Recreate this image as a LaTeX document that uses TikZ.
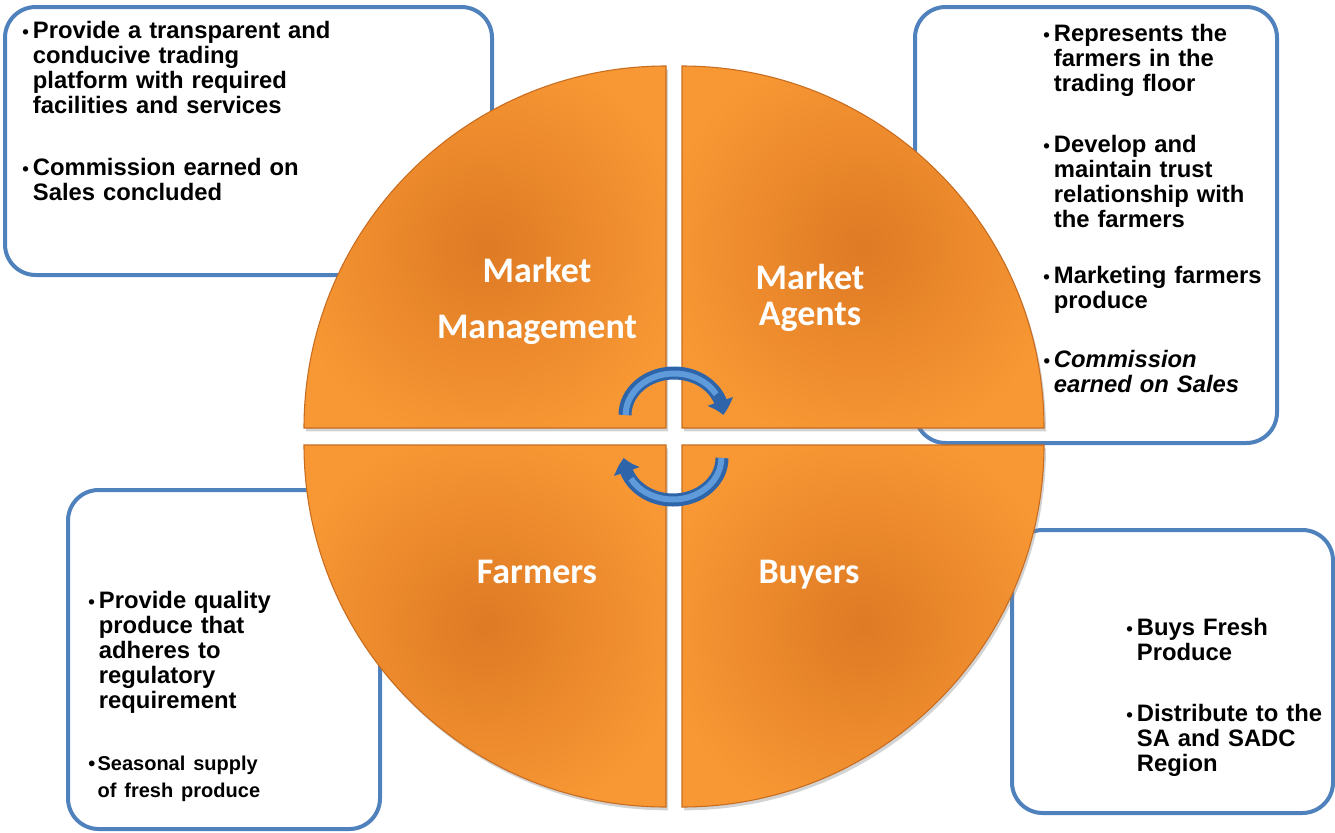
\documentclass[tikz,border=0pt]{standalone}
\usepackage{fontspec}
\setmainfont{Liberation Sans}
\newfontfamily\calib{Carlito}
\usetikzlibrary{arrows.meta,shadows,bending}
\definecolor{boxblue}{RGB}{79,129,189}
\definecolor{qlight}{RGB}{248,152,52}
\definecolor{qdark}{RGB}{222,122,36}
\definecolor{qedge}{RGB}{200,108,32}
\definecolor{arrdark}{RGB}{45,100,170}
\definecolor{arrlight}{RGB}{95,155,218}
\pgfdeclareradialshading{quadshade}{\pgfpoint{0bp}{0bp}}{color(0bp)=(qdark); color(28bp)=(qlight); color(50bp)=(qlight)}
\newcommand\bul{\makebox[8pt][l]{\fontsize{14}{14}\selectfont\textbullet}}
\newcommand\ind{\hspace*{8pt}}
\tikzset{
  infobox/.style={draw=boxblue, line width=3pt, fill=white, rounded corners=23pt},
  quad/.style={shading=quadshade, draw=qedge, line width=0.8pt,
    drop shadow={opacity=0.35, shadow xshift=1.5pt, shadow yshift=-2.5pt}},
  qlabel/.style={text=white, inner sep=0pt, align=center, anchor=base},
  btext/.style={anchor=base west, inner sep=0pt, align=left, font=\bfseries\fontsize{17.85}{18.75}\selectfont},
  cycdark/.style={line width=9.75pt, draw=arrdark},
  cyclight/.style={line width=4.5pt, draw=arrlight},
}
\begin{document}
\begin{tikzpicture}[x=0.75pt,y=-0.75pt]
\useasboundingbox (0,0) rectangle (1335,832);
% info boxes
\draw[infobox] (5,7) rectangle (492,275);
\draw[infobox] (915,7) rectangle (1277,443);
\draw[infobox] (68,490) rectangle (380,829);
\draw[infobox] (1012,530) rectangle (1333,813);
% quadrants
\draw[quad] (666,428) -- (304,428) arc[start angle=180,end angle=270,radius=362] -- cycle;
\draw[quad] (682,428) -- (682,66) arc[start angle=270,end angle=360,radius=362] -- cycle;
\draw[quad] (666,445) -- (666,807) arc[start angle=90,end angle=180,radius=362] -- cycle;
\draw[quad] (682,445) -- (1044,445) arc[start angle=0,end angle=90,radius=362] -- cycle;
% labels (anchor base = baseline of the last line)
\node[qlabel, font=\calib\bfseries\fontsize{27}{42}\selectfont] (mm) at (537,338) {Market\\Management};
\node[qlabel, font=\calib\bfseries\fontsize{27}{27}\selectfont] (ma) at (810,325) {Market\\Agents};
\node[qlabel, font=\calib\bfseries\fontsize{27}{27}\selectfont] (fa) at (537,583) {Farmers};
\node[qlabel, font=\calib\bfseries\fontsize{27}{27}\selectfont] (bu) at (809,583) {Buyers};
% cycle arrows
\coordinate (a1s) at (625,415);
\coordinate (a2s) at (722,458);
\draw[cycdark, -{Triangle[width=19.5pt,length=10.5pt,bend]}] (a1s) arc[start angle=180,end angle=360,x radius=49,y radius=42];
\draw[cyclight] ([xshift=0.5]a1s) arc[start angle=180,end angle=330,x radius=48.5,y radius=41.5];
\draw[cycdark, -{Triangle[width=19.5pt,length=10.5pt,bend]}] (a2s) arc[start angle=0,end angle=180,x radius=49,y radius=42];
\draw[cyclight] ([xshift=-0.5]a2s) arc[start angle=0,end angle=150,x radius=48.5,y radius=41.5];
% box texts
\node[btext, text width=330pt] (t1) at (22,38) {\bul Provide a transparent and\\\ind conducive trading\\\ind platform with required\\\ind facilities and services\par
\vspace{27.75pt}\bul Commission earned on\\\ind Sales concluded\par};
\node[btext, text width=280pt] (t2) at (1043,41) {\bul Represents the\\\ind farmers in the\\\ind trading floor\par
\vspace{27pt}\bul Develop and\\\ind maintain trust\\\ind relationship with\\\ind the farmers\par
\vspace{23.25pt}\bul Marketing farmers\\\ind produce\par
\vspace{25.5pt}{\itshape\bul Commission\\\ind earned on Sales\par}};
\node[btext, text width=230pt] (t3) at (88,608) {\bul Provide quality\\\ind produce that\\\ind adheres to\\\ind regulatory\\\ind requirement\par
\vspace{26.25pt}{\fontsize{15}{20.25}\selectfont\makebox[7pt][l]{\textbullet}Seasonal supply\\\hspace*{7pt}of fresh produce\par}};
\node[btext, text width=240pt] (t4) at (1126,635) {\bul Buys Fresh\\\ind Produce\par
\vspace{27pt}\bul Distribute to the\\\ind SA and SADC\\\ind Region\par};
\end{tikzpicture}
\end{document}
